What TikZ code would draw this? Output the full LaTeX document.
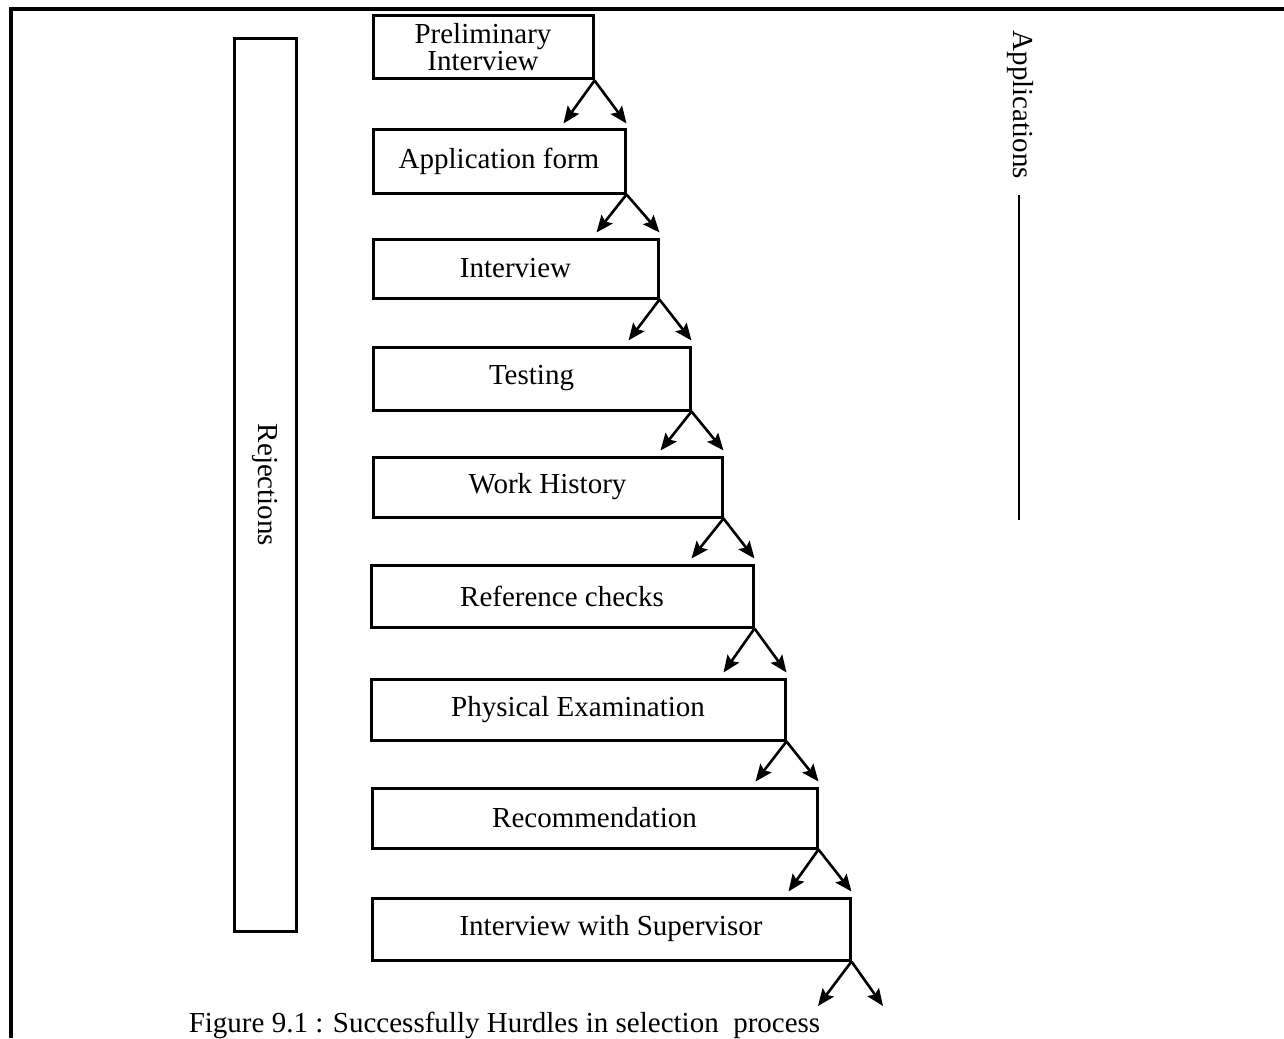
\documentclass[tikz,border=0pt]{standalone}
\usepackage{fontspec}
\setmainfont{Liberation Serif}
\usetikzlibrary{arrows.meta,calc}
\begin{document}
\begin{tikzpicture}[x=1pt,y=-1pt,
  box/.style={draw,line width=3pt,rectangle,inner sep=0pt,
    font=\fontsize{29}{27}\selectfont,align=center},
  sidebox/.style={draw,line width=3pt,rectangle,inner sep=0pt},
  vlabel/.style={rotate=-90,inner sep=0pt,font=\fontsize{29}{34}\selectfont},
  arr/.style={line width=2.6pt,-{Stealth[length=17pt,width=14pt,inset=3pt]}},
  frameline/.style={line width=3.2pt},
  plainline/.style={line width=2.4pt}]
\useasboundingbox (0,0) rectangle (1284,1038);
% page frame
\coordinate (fbl) at (11,1038);
\coordinate (ftl) at (11,9);
\coordinate (ftr) at (1284,9);
\draw[frameline] (fbl) -- (ftl) -- (ftr);
% stages
\node[box,minimum width=220,minimum height=63] (p1) at (483,47.5) {Preliminary\\Interview};
\node[box,minimum width=252,minimum height=63] (p2) at (499,161.5) {Application form};
\node[box,minimum width=285,minimum height=59] (p3) at (515.5,268.5) {Interview};
\node[box,minimum width=317,minimum height=63] (p4) at (531.5,378.5) {Testing};
\node[box,minimum width=349,minimum height=60] (p5) at (547.5,487) {Work History};
\node[box,minimum width=382,minimum height=62] (p6) at (562,596) {Reference checks};
\node[box,minimum width=414,minimum height=61] (p7) at (578,709.5) {Physical Examination};
\node[box,minimum width=445,minimum height=60] (p8) at (594.5,818) {Recommendation};
\node[box,minimum width=478,minimum height=62] (p9) at (611,929) {Interview with Supervisor};
% forks between stages
\foreach \i in {1,...,8}{
  \pgfmathtruncatemacro{\j}{\i+1}
  \coordinate (l\i) at ($(p\j.north east)+(-63,-5)$);
  \coordinate (r\i) at ($(p\j.north east)+(0,-5)$);
  \draw[arr] (p\i.south east) -- (l\i);
  \draw[arr] (p\i.south east) -- (r\i);
}
\coordinate (l9) at (818,1006);
\coordinate (r9) at (883,1006);
\draw[arr] (p9.south east) -- (l9);
\draw[arr] (p9.south east) -- (r9);
% rejections column
\node[sidebox,minimum width=62,minimum height=892] (rej) at (265,485) {};
\node[vlabel] (rejlabel) at (rej.center) {Rejections};
% applications
\node[vlabel] (app) at (1020,105) {Applications};
\coordinate (appa) at (1019,195);
\coordinate (appb) at (1019,520);
\draw[plainline] (appa) -- (appb);
% caption
\node[anchor=base,inner sep=0pt,font=\fontsize{29}{34}\selectfont] (cap) at (504.5,1032)
  {Figure 9.1 : Successfully Hurdles in selection~ process};
\end{tikzpicture}
\end{document}
